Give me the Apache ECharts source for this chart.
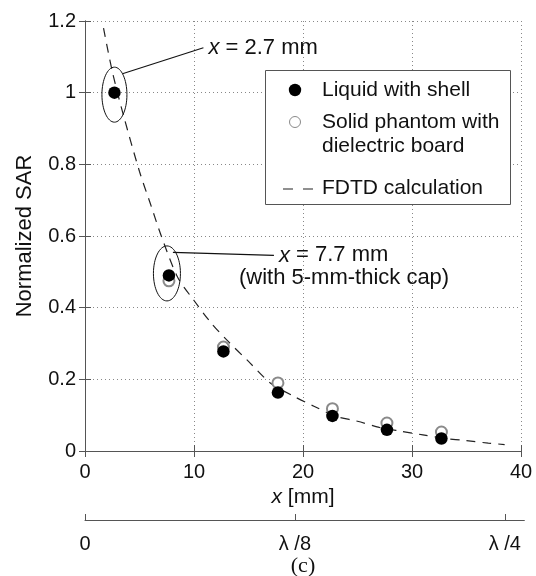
<!DOCTYPE html>
<html>
<head>
<meta charset="utf-8">
<script src="https://cdn.jsdelivr.net/npm/echarts@6/dist/echarts.min.js"></script>
<style>
html,body{margin:0;padding:0;background:#fff;}
#c{width:536px;height:576px;}
</style>
</head>
<body>
<div id="c"></div>
<script>
// ---- data ----
var liquidX = [2.7, 7.7, 12.7, 17.7, 22.7, 27.7, 32.7];
var liquidY = [1.0, 0.49, 0.278, 0.163, 0.098, 0.059, 0.035];
var solidX = [7.7, 12.7, 17.7, 22.7, 27.7, 32.7];
var solidY = [0.475, 0.29, 0.19, 0.118, 0.078, 0.053];
var fdtdX = [1.7, 2.5, 3.5, 5, 6, 7, 8.5, 10, 11.5, 13, 15, 17, 19, 21, 23, 25, 27, 29, 31, 33, 35, 37, 38.5];
var fdtdY = [1.18, 1.06, 0.94, 0.78, 0.69, 0.60, 0.485, 0.42, 0.36, 0.31, 0.25, 0.19, 0.155, 0.125, 0.097, 0.083, 0.066, 0.055, 0.045, 0.035, 0.029, 0.022, 0.018];
var xTicks = [0, 10, 20, 30, 40];
var yTicks = [0, 0.2, 0.4, 0.6, 0.8, 1, 1.2];
var lambdaTickValues = [0, 19.3, 38.6];
var lambdaTickLabels = ['0', 'λ /8', 'λ /4'];
var legendNames = ['Liquid with shell', 'Solid phantom with', 'dielectric board', 'FDTD calculation'];

function zip(a, b) { return a.map(function (v, i) { return [v, b[i]]; }); }

var FONT = 'Liberation Sans';
var axisCol = '#555';
var chart = echarts.init(document.getElementById('c'));

var option = {
  animation: false,
  backgroundColor: '#fff',
  grid: [
    { left: 85, right: 15, top: 21, bottom: 125 },
    { left: 85, width: 439.35, top: 519, height: 1 }
  ],
  xAxis: [
    {
      type: 'value', gridIndex: 0, min: xTicks[0], max: xTicks[xTicks.length - 1], interval: 10,
      position: 'bottom',
      name: '{it|x} [mm]', nameLocation: 'middle', nameGap: 29,
      nameTextStyle: { fontFamily: FONT, fontSize: 21, color: '#111',
        rich: { it: { fontFamily: FONT, fontStyle: 'italic', fontSize: 21, color: '#111' } } },
      axisLine: { lineStyle: { color: axisCol, width: 1 } },
      axisTick: { inside: true, length: 6, lineStyle: { color: axisCol } },
      axisLabel: { margin: 11, fontFamily: FONT, fontSize: 20, color: '#111' },
      splitLine: { show: true, lineStyle: { color: '#888', type: [1, 3], width: 1 } }
    },
    {
      type: 'value', gridIndex: 0, min: 0, max: 40, interval: 10, position: 'top',
      axisLine: { lineStyle: { color: axisCol, width: 1 } },
      axisTick: { inside: true, length: 6, lineStyle: { color: axisCol } },
      axisLabel: { show: false }, splitLine: { show: false }
    },
    {
      type: 'value', gridIndex: 1, min: 0, max: 40.4, position: 'bottom',
      axisLine: { lineStyle: { color: axisCol, width: 1 } },
      axisTick: { inside: true, length: 6, customValues: lambdaTickValues, lineStyle: { color: axisCol } },
      axisLabel: { margin: 14, fontFamily: FONT, fontSize: 20, color: '#111',
        customValues: lambdaTickValues,
        formatter: function (v) {
          var i = lambdaTickValues.indexOf(v);
          return i >= 0 ? lambdaTickLabels[i] : '';
        } },
      splitLine: { show: false }
    }
  ],
  yAxis: [
    {
      type: 'value', gridIndex: 0, min: yTicks[0], max: yTicks[yTicks.length - 1], interval: 0.2,
      position: 'left',
      name: 'Normalized SAR', nameLocation: 'middle', nameGap: 49, nameRotate: 90,
      nameTextStyle: { fontFamily: FONT, fontSize: 22, color: '#111' },
      axisLine: { lineStyle: { color: axisCol, width: 1 } },
      axisTick: { inside: true, length: 6, lineStyle: { color: axisCol } },
      axisLabel: { margin: 9, fontFamily: FONT, fontSize: 20, color: '#111' },
      splitLine: { show: true, lineStyle: { color: '#888', type: [1, 3], width: 1 } }
    },
    {
      type: 'value', gridIndex: 0, min: 0, max: 1.2, interval: 0.2, position: 'right',
      axisLine: { lineStyle: { color: axisCol, width: 1 } },
      axisTick: { inside: true, length: 6, lineStyle: { color: axisCol } },
      axisLabel: { show: false }, splitLine: { show: false }
    },
    {
      type: 'value', gridIndex: 1, show: false, min: 0, max: 1
    }
  ],
  series: [
    {
      name: 'FDTD calculation', type: 'line', xAxisIndex: 0, yAxisIndex: 0,
      data: zip(fdtdX, fdtdY), smooth: 0.3, showSymbol: false, symbol: 'none',
      lineStyle: { color: '#222', width: 1.2, type: [9, 7] }, z: 2
    },
    {
      name: 'Solid phantom with dielectric board', type: 'scatter', xAxisIndex: 0, yAxisIndex: 0,
      data: zip(solidX, solidY), symbol: 'emptyCircle', symbolSize: 11,
      itemStyle: { color: '#8a8a8a', borderColor: '#8a8a8a', borderWidth: 1, opacity: 1 }, z: 3
    },
    {
      name: 'Liquid with shell', type: 'scatter', xAxisIndex: 0, yAxisIndex: 0,
      data: zip(liquidX, liquidY), symbol: 'circle', symbolSize: 12.5,
      itemStyle: { color: '#000', opacity: 1 }, z: 4
    }
  ]
};
chart.setOption(option);

// annotations and legend, positioned from data coordinates
var p1 = chart.convertToPixel({ xAxisIndex: 0, yAxisIndex: 0 }, [liquidX[0], liquidY[0]]);
var p2 = chart.convertToPixel({ xAxisIndex: 0, yAxisIndex: 0 }, [liquidX[1], liquidY[1]]);
var cx20 = chart.convertToPixel({ xAxisIndex: 0 }, 20);

var txt = { fontFamily: FONT, fontSize: 21, fill: '#111' };
function T(x, y, s, align, extra) {
  var st = Object.assign({}, txt, { text: s, x: x, y: y, textAlign: align || 'left', textVerticalAlign: 'middle' }, extra || {});
  return { type: 'text', style: st, z: 10 };
}
var ann = 22;

var graphic = [
  // ellipse 1
  { type: 'ellipse', shape: { cx: p1[0], cy: p1[1] + 2, rx: 12.5, ry: 27.5 },
    style: { fill: 'none', stroke: '#111', lineWidth: 1 }, z: 10 },
  { type: 'line', shape: { x1: p1[0] + 8, y1: p1[1] - 19, x2: p1[0] + 89, y2: p1[1] - 45 },
    style: { stroke: '#111', lineWidth: 1.1 }, z: 10 },
  { type: 'text', z: 10, style: { x: p1[0] + 94, y: p1[1] - 45, textVerticalAlign: 'middle',
    text: '{it|x} = 2.7 mm', fontFamily: FONT, fontSize: ann, fill: '#111',
    rich: { it: { fontFamily: FONT, fontStyle: 'italic', fontSize: ann, fill: '#111' } } } },
  // ellipse 2
  { type: 'ellipse', shape: { cx: p2[0] - 2, cy: p2[1] - 2, rx: 13.5, ry: 27.5 },
    style: { fill: 'none', stroke: '#111', lineWidth: 1 }, z: 10 },
  { type: 'line', shape: { x1: p2[0] + 4, y1: p2[1] - 23, x2: p2[0] + 105, y2: p2[1] - 20 },
    style: { stroke: '#111', lineWidth: 1.1 }, z: 10 },
  { type: 'text', z: 10, style: { x: p2[0] + 110, y: p2[1] - 20, textVerticalAlign: 'middle',
    text: '{it|x} = 7.7 mm', fontFamily: FONT, fontSize: ann, fill: '#111',
    rich: { it: { fontFamily: FONT, fontStyle: 'italic', fontSize: ann, fill: '#111' } } } },
  T(p2[0] + 70, p2[1] + 3, '(with 5-mm-thick cap)', 'left', { fontSize: ann }),
  // legend box
  { type: 'rect', shape: { x: 265.5, y: 70.5, width: 245, height: 134 },
    style: { fill: '#fff', stroke: '#555', lineWidth: 1 }, z: 9 },
  { type: 'circle', shape: { cx: 295, cy: 90, r: 6.2 }, style: { fill: '#000' }, z: 10 },
  { type: 'circle', shape: { cx: 295, cy: 122, r: 5.5 }, style: { fill: 'none', stroke: '#8a8a8a', lineWidth: 1 }, z: 10 },
  { type: 'line', shape: { x1: 283, y1: 189, x2: 313, y2: 189 },
    style: { stroke: '#222', lineWidth: 1.2, lineDash: [10, 10] }, z: 10 },
  T(322, 90, legendNames[0]),
  T(322, 122, legendNames[1]),
  T(322, 146, legendNames[2]),
  T(322, 188, legendNames[3]),
  // caption
  T(cx20, 566, '(c)', 'center', { fontFamily: 'Liberation Serif', fontSize: 22 })
];
chart.setOption({ graphic: graphic });
</script>
</body>
</html>
